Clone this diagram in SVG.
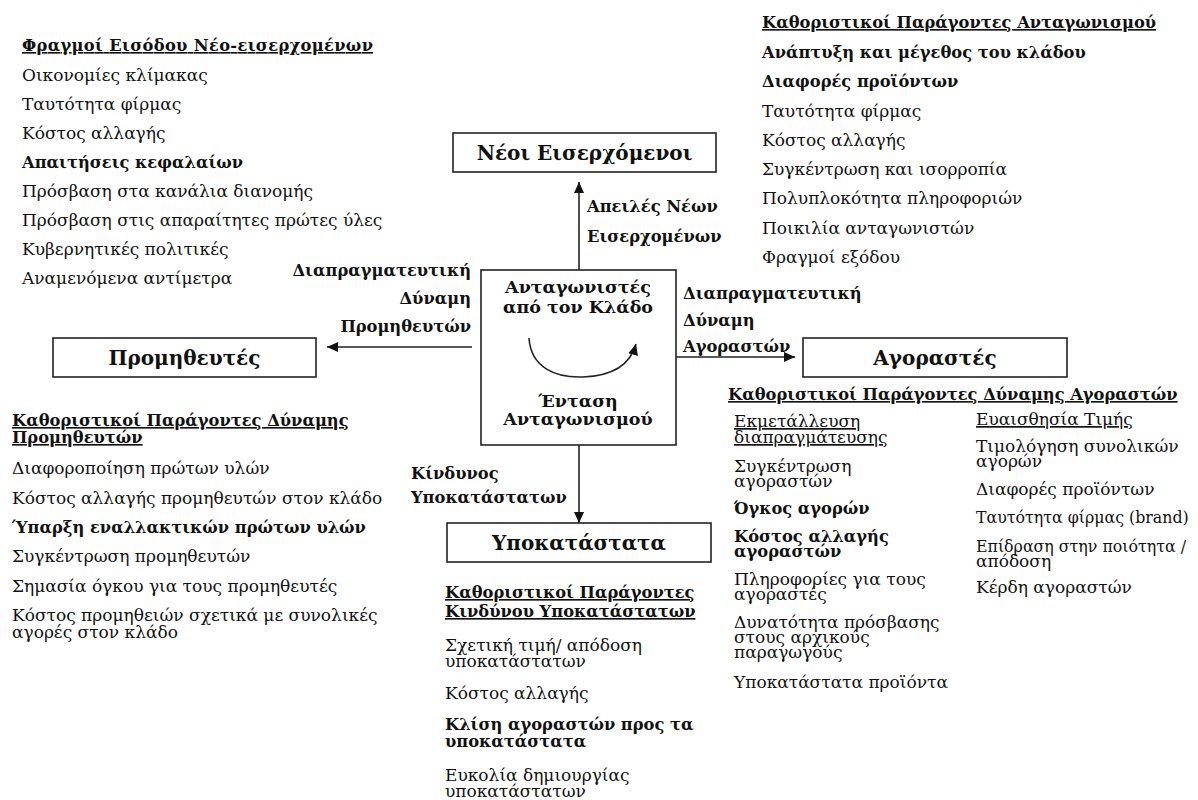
<svg xmlns="http://www.w3.org/2000/svg" width="1198" height="800" viewBox="0 0 1198 800">
  <style>
    text { font-family: "DejaVu Serif", "Liberation Serif", serif; font-size: 17px; fill: #111; }
    .b { font-weight: bold; font-size: 16.3px; }
    .u { text-decoration: underline; }
    .end { text-anchor: end; }
    .sm { font-size: 15.8px; }
    .core { font-weight: bold; font-size: 17.5px; text-anchor: middle; }
    .title { font-size: 20px; font-weight: bold; text-anchor: middle; }
    .box { fill: #fff; stroke: #222; stroke-width: 1.6; }
    .con { fill: none; stroke: #222; stroke-width: 1.6; }
  </style>
  <defs>
    <marker id="arrow" markerUnits="userSpaceOnUse" markerWidth="12" markerHeight="10" refX="11" refY="5" orient="auto">
      <path d="M0,0 L11,5 L0,10 z" fill="#111"/>
    </marker>
  </defs>

  <rect width="1198" height="800" fill="#fff"/>

  <!-- connectors between the forces -->
  <g id="connectors">
    <line class="con" x1="579" y1="270" x2="579" y2="182" marker-end="url(#arrow)"/>
    <line class="con" x1="472" y1="347" x2="327" y2="347" marker-end="url(#arrow)"/>
    <line class="con" x1="676" y1="357" x2="795" y2="357" marker-end="url(#arrow)"/>
    <line class="con" x1="579" y1="445" x2="579" y2="523" marker-end="url(#arrow)"/>
    <path class="con" d="M529,338 C531,368 556,378 583,377 C610,376 630,366 636,344" marker-end="url(#arrow)"/>
  </g>

  <!-- central node: industry competitors -->
  <g id="node-rivalry">
    <rect class="box" x="481" y="270" width="195" height="175" style="fill:none"/>
    <text class="core" x="578" y="293">Ανταγωνιστές</text>
    <text class="core" x="578" y="313">από τον Κλάδο</text>
    <text class="core" x="578" y="407">Ένταση</text>
    <text class="core" x="578" y="425">Ανταγωνισμού</text>
  </g>

  <g id="node-entrants">
    <rect class="box" x="453" y="133" width="263" height="39"/>
    <text class="title" x="584.5" y="160">Νέοι Εισερχόμενοι</text>
  </g>

  <g id="node-suppliers">
    <rect class="box" x="53" y="338" width="263" height="39"/>
    <text class="title" x="184.5" y="365">Προμηθευτές</text>
  </g>

  <g id="node-buyers">
    <rect class="box" x="803" y="338" width="264" height="39"/>
    <text class="title" x="935" y="365">Αγοραστές</text>
  </g>

  <g id="node-substitutes">
    <rect class="box" x="447" y="523" width="264" height="39"/>
    <text class="title" x="579" y="550">Υποκατάστατα</text>
  </g>

  <!-- connector labels -->
  <g id="label-entrants">
    <text class="b" x="587" y="212">Απειλές Νέων</text>
    <text class="b" x="587" y="242">Εισερχομένων</text>
  </g>
  <g id="label-suppliers">
    <text class="b end" x="471" y="276">Διαπραγματευτική</text>
    <text class="b end" x="471" y="304">Δύναμη</text>
    <text class="b end" x="471" y="332">Προμηθευτών</text>
  </g>
  <g id="label-buyers">
    <text class="b" x="683" y="299">Διαπραγματευτική</text>
    <text class="b" x="683" y="326">Δύναμη</text>
    <text class="b" x="683" y="352">Αγοραστών</text>
  </g>
  <g id="label-substitutes">
    <text class="b" x="411" y="479">Κίνδυνος</text>
    <text class="b" x="411" y="503">Υποκατάστατων</text>
  </g>

  <!-- barriers to entry -->
  <g id="list-entry-barriers">
    <text class="b u" x="22" y="51" textLength="351">Φραγμοί Εισόδου Νέο-εισερχομένων</text>
    <text x="22" y="81">Οικονομίες κλίμακας</text>
    <text x="22" y="110">Ταυτότητα φίρμας</text>
    <text x="22" y="139">Κόστος αλλαγής</text>
    <text class="b" x="22" y="168">Απαιτήσεις κεφαλαίων</text>
    <text x="22" y="197">Πρόσβαση στα κανάλια διανομής</text>
    <text x="22" y="226">Πρόσβαση στις απαραίτητες πρώτες ύλες</text>
    <text x="22" y="255">Κυβερνητικές πολιτικές</text>
    <text x="22" y="284">Αναμενόμενα αντίμετρα</text>
  </g>

  <!-- rivalry determinants -->
  <g id="list-rivalry">
    <text class="b u" x="762" y="28">Καθοριστικοί Παράγοντες Ανταγωνισμού</text>
    <text class="b" x="762" y="58">Ανάπτυξη και μέγεθος του κλάδου</text>
    <text class="b" x="762" y="87">Διαφορές προϊόντων</text>
    <text x="762" y="117">Ταυτότητα φίρμας</text>
    <text x="762" y="146">Κόστος αλλαγής</text>
    <text x="762" y="175">Συγκέντρωση και ισορροπία</text>
    <text x="762" y="204">Πολυπλοκότητα πληροφοριών</text>
    <text x="762" y="234">Ποικιλία ανταγωνιστών</text>
    <text x="762" y="263">Φραγμοί εξόδου</text>
  </g>

  <!-- supplier power determinants -->
  <g id="list-suppliers">
    <text class="b u" x="12" y="426">Καθοριστικοί Παράγοντες Δύναμης</text>
    <text class="b u" x="12" y="443">Προμηθευτών</text>
    <text x="12" y="474">Διαφοροποίηση πρώτων υλών</text>
    <text x="12" y="504">Κόστος αλλαγής προμηθευτών στον κλάδο</text>
    <text class="b" x="12" y="533">Ύπαρξη εναλλακτικών πρώτων υλών</text>
    <text x="12" y="562">Συγκέντρωση προμηθευτών</text>
    <text x="12" y="592">Σημασία όγκου για τους προμηθευτές</text>
    <text x="12" y="621">Κόστος προμηθειών σχετικά με συνολικές</text>
    <text x="12" y="638">αγορές στον κλάδο</text>
  </g>

  <!-- substitute threat determinants -->
  <g id="list-substitutes">
    <text class="b u" x="445" y="598">Καθοριστικοί Παράγοντες</text>
    <text class="b u" x="445" y="617">Κινδύνου Υποκατάστατων</text>
    <text x="445" y="651">Σχετική τιμή/ απόδοση</text>
    <text x="445" y="667">υποκατάστατων</text>
    <text x="445" y="699">Κόστος αλλαγής</text>
    <text class="b" x="445" y="730">Κλίση αγοραστών προς τα</text>
    <text class="b" x="445" y="747">υποκατάστατα</text>
    <text x="445" y="781">Ευκολία δημιουργίας</text>
    <text x="445" y="797">υποκατάστατων</text>
  </g>

  <!-- buyer power determinants -->
  <g id="list-buyers">
    <text class="b u" x="728" y="400">Καθοριστικοί Παράγοντες Δύναμης Αγοραστών</text>
    <text class="u" x="734" y="427">Εκμετάλλευση</text>
    <text class="u" x="734" y="443">διαπραγμάτευσης</text>
    <text x="734" y="472">Συγκέντρωση</text>
    <text x="734" y="487">αγοραστών</text>
    <text class="b" x="734" y="514">Όγκος αγορών</text>
    <text class="b" x="734" y="542">Κόστος αλλαγής</text>
    <text class="b" x="734" y="557">αγοραστών</text>
    <text x="734" y="585">Πληροφορίες για τους</text>
    <text x="734" y="600">αγοραστές</text>
    <text x="734" y="628">Δυνατότητα πρόσβασης</text>
    <text x="734" y="643">στους αρχικούς</text>
    <text x="734" y="658">παραγωγούς</text>
    <text x="734" y="688">Υποκατάστατα προϊόντα</text>

    <text class="u" x="976" y="425">Ευαισθησία Τιμής</text>
    <text x="976" y="452">Τιμολόγηση συνολικών</text>
    <text x="976" y="467">αγορών</text>
    <text x="976" y="495">Διαφορές προϊόντων</text>
    <text class="sm" x="976" y="523">Ταυτότητα φίρμας (brand)</text>
    <text class="sm" x="976" y="552">Επίδραση στην ποιότητα /</text>
    <text x="976" y="567">απόδοση</text>
    <text x="976" y="593">Κέρδη αγοραστών</text>
  </g>
</svg>
